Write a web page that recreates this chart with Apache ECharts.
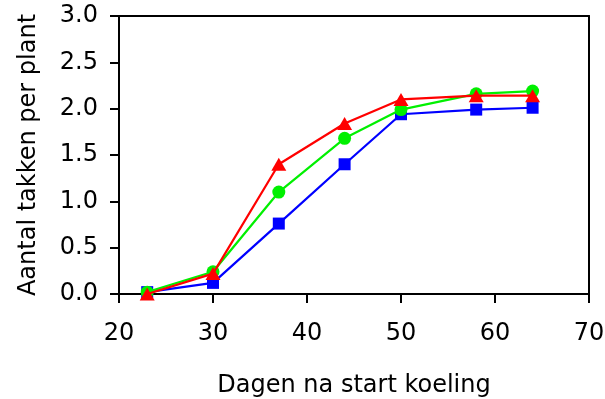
<!DOCTYPE html>
<html>
<head>
<meta charset="utf-8">
<script src="https://cdn.jsdelivr.net/npm/echarts@6/dist/echarts.min.js"></script>
<style>
  html, body { margin: 0; padding: 0; background: #fff; }
  #chart { width: 605px; height: 399px; }
</style>
</head>
<body>
<div id="chart"></div>
<script>
// Days after the start of cooling
const days = [23, 30, 37, 44, 50, 58, 64];
// Number of branches per plant, three treatments
const seriesBlue  = [0.02, 0.12, 0.76, 1.40, 1.94, 1.99, 2.01];
const seriesGreen = [0.02, 0.24, 1.10, 1.68, 1.99, 2.16, 2.19];
const seriesRed   = [0.00, 0.22, 1.40, 1.84, 2.10, 2.14, 2.14];

const xTitle = 'Dagen na start koeling';
const yTitle = 'Aantal takken per plant';

const FONT = 'DejaVu Sans';
const AXIS_COLOR = '#000';

function pairs(vals) {
  return days.map((d, i) => [d, vals[i]]);
}

const chart = echarts.init(document.getElementById('chart'), null, { renderer: 'canvas' });

// plain border lines on the top and right sides
const frameAxis = {
  axisLine: { show: true, onZero: false, lineStyle: { color: AXIS_COLOR, width: 2 } },
  axisTick: { show: false },
  axisLabel: { show: false },
  splitLine: { show: false }
};

chart.setOption({
  animation: false,
  backgroundColor: '#fff',
  grid: {
    left: 119, right: 16, top: 16, bottom: 105,
    containLabel: false, outerBoundsMode: 'none'
  },
  xAxis: [
    {
      type: 'value', position: 'bottom', min: 20, max: 70, interval: 10,
      name: xTitle, nameLocation: 'middle', nameGap: 80,
      nameTextStyle: { fontFamily: FONT, fontSize: 24, color: '#000' },
      axisLine: { onZero: false, lineStyle: { color: AXIS_COLOR, width: 2 } },
      axisTick: { inside: false, length: 9, lineStyle: { color: AXIS_COLOR, width: 2 } },
      axisLabel: { fontFamily: FONT, fontSize: 24, color: '#000', margin: 28 },
      splitLine: { show: false }
    },
    Object.assign({ type: 'value', position: 'top', min: 20, max: 70 }, frameAxis)
  ],
  yAxis: [
    {
      type: 'value', position: 'left', min: 0, max: 3, interval: 0.5,
      name: yTitle, nameLocation: 'middle', nameGap: 78,
      nameTextStyle: { fontFamily: FONT, fontSize: 24, color: '#000' },
      axisLine: { onZero: false, lineStyle: { color: AXIS_COLOR, width: 2 } },
      axisTick: { inside: false, length: 9, lineStyle: { color: AXIS_COLOR, width: 2 } },
      axisLabel: {
        fontFamily: FONT, fontSize: 24, color: '#000', margin: 21,
        formatter: v => v.toFixed(1)
      },
      splitLine: { show: false }
    },
    Object.assign({ type: 'value', position: 'right', min: 0, max: 3 }, frameAxis)
  ],
  series: [
    {
      type: 'line', data: pairs(seriesBlue),
      symbol: 'rect', symbolSize: 12,
      lineStyle: { color: '#0000ff', width: 2.2 },
      itemStyle: { color: '#0000ff' }, z: 3
    },
    {
      type: 'line', data: pairs(seriesGreen),
      symbol: 'circle', symbolSize: 13,
      lineStyle: { color: '#00f000', width: 2.2 },
      itemStyle: { color: '#00f000' }, z: 4
    },
    {
      type: 'line', data: pairs(seriesRed),
      symbol: 'triangle', symbolSize: [15, 13],
      lineStyle: { color: '#ff0000', width: 2.2 },
      itemStyle: { color: '#ff0000' }, z: 5
    }
  ]
});
</script>
</body>
</html>
